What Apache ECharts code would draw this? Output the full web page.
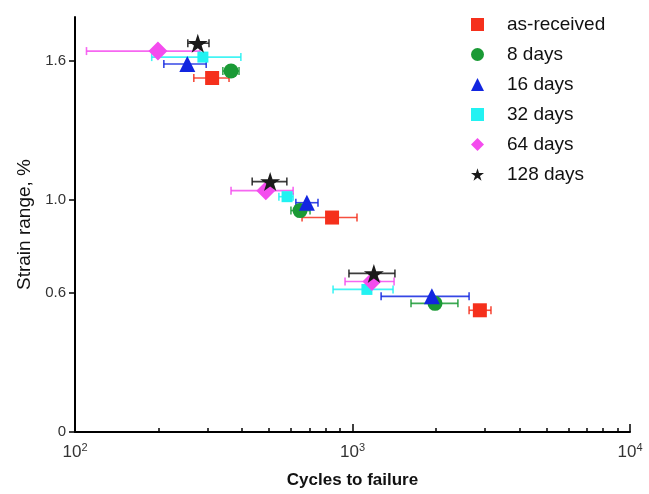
<!DOCTYPE html>
<html>
<head>
<meta charset="utf-8">
<script src="https://cdn.jsdelivr.net/npm/echarts@6/dist/echarts.min.js"></script>
<style>
  html, body { margin: 0; padding: 0; background: #fff; }
  #chart { width: 649px; height: 494px; }
</style>
</head>
<body>
<div id="chart"></div>
<script>
// legend names
var names = ['as-received', '8 days', '16 days', '32 days', '64 days', '128 days'];
var colors = ['#f5301c', '#1a9a35', '#1226e0', '#22f2f2', '#f44cee', '#1a1a1a'];

// cycles to failure (center) for the three strain levels
var cycles = [
  [312, 844, 2877],
  [365, 647, 1983],
  [254, 685, 1932],
  [289, 581, 1127],
  [199, 487, 1175],
  [277, 505, 1194]
];
// strain range, %
var strain = [
  [1.527, 0.925, 0.525],
  [1.557, 0.955, 0.555],
  [1.587, 0.989, 0.585],
  [1.617, 1.015, 0.615],
  [1.643, 1.041, 0.649],
  [1.677, 1.080, 0.684]
];
// error bar ends
var errLow = [
  [268, 658, 2631],
  [341, 600, 1625],
  [209, 625, 1268],
  [189, 543, 851],
  [110, 365, 940],
  [255, 435, 971]
];
var errHigh = [
  [359, 1038, 3155],
  [390, 703, 2398],
  [297, 751, 2631],
  [396, 611, 1400],
  [282, 611, 1412],
  [304, 580, 1422]
];

var yTicks = [0, 0.6, 1.0, 1.6];
var xMajor = [100, 1000, 10000];
var xMinor = [100, 200, 300, 400, 500, 600, 700, 800, 900, 1000,
              2000, 3000, 4000, 5000, 6000, 7000, 8000, 9000, 10000];

var starPath = 'path://M50 0L61.2 34.5L97.6 34.5L68.2 55.9L79.4 90.5L50 69.1L20.6 90.5L31.8 55.9L2.4 34.5L38.8 34.5Z';
var symbols = ['rect', 'circle', 'triangle', 'rect', 'diamond', starPath];
var sizes = [14, 15, 16, 11, 19, 20];

var chart = echarts.init(document.getElementById('chart'));

var errData = [];
for (var i = 0; i < names.length; i++) {
  for (var j = 0; j < 3; j++) {
    errData.push([errLow[i][j], errHigh[i][j], strain[i][j], i]);
  }
}

var series = [{
  type: 'custom',
  name: 'err',
  z: 1,
  silent: true,
  encode: { x: [0, 1], y: 2 },
  data: errData,
  renderItem: function (params, api) {
    var a = api.coord([api.value(0), api.value(2)]);
    var b = api.coord([api.value(1), api.value(2)]);
    var c = colors[api.value(3)];
    var st = { stroke: c, lineWidth: 1.6, opacity: 0.85 };
    var h = 4;
    return {
      type: 'group',
      children: [
        { type: 'line', shape: { x1: a[0], y1: a[1], x2: b[0], y2: b[1] }, style: st },
        { type: 'line', shape: { x1: a[0], y1: a[1] - h, x2: a[0], y2: a[1] + h }, style: st },
        { type: 'line', shape: { x1: b[0], y1: b[1] - h, x2: b[0], y2: b[1] + h }, style: st }
      ]
    };
  }
}];

names.forEach(function (n, i) {
  series.push({
    type: 'scatter',
    name: n,
    z: 3,
    symbol: symbols[i],
    symbolSize: sizes[i],
    symbolKeepAspect: true,
    itemStyle: { color: colors[i], opacity: 1 },
    data: cycles[i].map(function (c, j) { return [c, strain[i][j]]; })
  });
});

chart.setOption({
  animation: false,
  grid: { left: 75, right: 19, top: 17, bottom: 59 },
  legend: {
    orient: 'vertical',
    left: 466,
    top: 10,
    itemWidth: 13,
    itemHeight: 13,
    itemGap: 11,
    textStyle: { fontSize: 19, color: '#111', fontFamily: 'Liberation Sans', padding: [0, 0, 0, 18] },
    data: names.map(function (n, i) {
      return { name: n, icon: symbols[i] };
    })
  },
  xAxis: [{
    type: 'log',
    min: 100,
    max: 10000,
    name: 'Cycles to failure',
    nameLocation: 'middle',
    nameGap: 40,
    nameTextStyle: { fontSize: 17, fontWeight: 'bold', color: '#111', fontFamily: 'Liberation Sans' },
    axisLine: { lineStyle: { color: '#000', width: 2 } },
    axisTick: { show: true, inside: true, length: 4, customValues: xMinor, lineStyle: { color: '#000', width: 1.5 } },
    axisLabel: {
      customValues: xMajor,
      margin: 10,
      color: '#333',
      fontSize: 17,
      fontFamily: 'Liberation Sans',
      formatter: function (v) {
        return '10{sup|' + Math.round(Math.log10(v)) + '}';
      },
      rich: {
        sup: { fontSize: 11, color: '#333', verticalAlign: 'top', padding: [0, 0, 9, 0], fontFamily: 'Liberation Sans' }
      }
    },
    splitLine: { show: false }
  }, {
    type: 'log',
    min: 100,
    max: 10000,
    position: 'bottom',
    offset: 0,
    axisLine: { show: false },
    axisTick: { show: true, inside: true, length: 8, customValues: [1000, 10000], lineStyle: { color: '#000', width: 1.5 } },
    axisLabel: { show: false },
    splitLine: { show: false }
  }],
  yAxis: {
    type: 'value',
    min: 0,
    max: 1.79,
    name: 'Strain range, %',
    nameLocation: 'middle',
    nameGap: 37,
    nameTextStyle: { fontSize: 19, color: '#111', fontFamily: 'Liberation Sans' },
    axisLine: { show: true, lineStyle: { color: '#000', width: 2 } },
    axisTick: { show: true, length: 6, customValues: yTicks, lineStyle: { color: '#000', width: 1.5 } },
    axisLabel: {
      customValues: yTicks,
      margin: 9,
      color: '#333',
      fontSize: 15,
      fontFamily: 'Liberation Sans',
      formatter: function (v) { return v === 0 ? '0' : v.toFixed(1); }
    },
    splitLine: { show: false }
  },
  series: series
});
</script>
</body>
</html>
